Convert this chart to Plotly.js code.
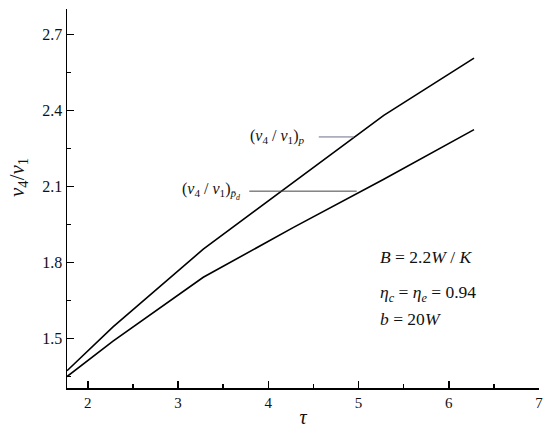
<!DOCTYPE html>
<html>
<head>
<meta charset="utf-8">
<script src="https://cdn.plot.ly/plotly-3.0.1.min.js"></script>
<style>html,body{margin:0;padding:0;background:#fff;}#chart{width:550px;height:435px;}</style>
</head>
<body>
<div id="chart"></div>
<script>
// Data
const tau = [1.77, 2.28, 3.28, 4.28, 5.28, 6.28];
const ratioP = [1.372, 1.545, 1.852, 2.115, 2.380, 2.606];
const ratioPd = [1.349, 1.489, 1.741, 1.938, 2.128, 2.324];

const xTick0 = 2, xDtick = 1, xMinorDtick = 0.5;
const yTick0 = 1.5, yDtick = 0.3, yMinorDtick = 0.15;
const xRange = [1.77, 7];
const yRange = [1.304, 2.8];

const serif = 'Times New Roman';

const traces = [
  {x: tau, y: ratioP, mode: 'lines', line: {color: '#000', width: 1.6}, showlegend: false, hoverinfo: 'skip'},
  {x: tau, y: ratioPd, mode: 'lines', line: {color: '#000', width: 1.6}, showlegend: false, hoverinfo: 'skip'}
];

const layout = {
  width: 550, height: 435,
  margin: {l: 67, r: 11, t: 9, b: 47},
  paper_bgcolor: '#fff', plot_bgcolor: '#fff',
  font: {family: serif, color: '#111', size: 15},
  xaxis: {
    range: xRange, showgrid: false, zeroline: false,
    showline: true, linecolor: '#000', linewidth: 1.5,
    ticks: 'inside', ticklen: 7, tickwidth: 1.5, tickcolor: '#000',
    tickmode: 'linear', tick0: xTick0, dtick: xDtick,
    tickfont: {family: serif, size: 15, color: '#111'},
    minor: {ticks: 'inside', ticklen: 4, tickwidth: 1.3, tickcolor: '#000', tickmode: 'linear', tick0: xTick0, dtick: xMinorDtick, showgrid: false},
    title: {text: '<i>τ</i>', font: {family: serif, size: 20, color: '#111'}, standoff: 0}
  },
  yaxis: {
    range: yRange, showgrid: false, zeroline: false,
    showline: true, linecolor: '#000', linewidth: 1.5,
    ticks: 'inside', ticklen: 7, tickwidth: 1.5, tickcolor: '#000',
    tickmode: 'linear', tick0: yTick0, dtick: yDtick, tickformat: '.1f',
    tickfont: {family: serif, size: 16, color: '#111'},
    minor: {ticks: 'inside', ticklen: 4, tickwidth: 1.3, tickcolor: '#000', tickmode: 'linear', tick0: yTick0, dtick: yMinorDtick, showgrid: false}
  },
  shapes: [
    {type: 'line', xref: 'x', yref: 'y', x0: 4.56, x1: 4.95, y0: 2.295, y1: 2.295, line: {color: '#6d6d88', width: 1}},
    {type: 'line', xref: 'x', yref: 'y', x0: 3.79, x1: 4.98, y0: 2.081, y1: 2.081, line: {color: '#444', width: 1}}
  ],
  annotations: [
    {x: 0, y: 0, xref: 'paper', yref: 'paper', showarrow: false, textangle: -90,
     text: '<i>v</i><sub>4</sub>/<i>v</i><sub>1</sub>', font: {family: serif, size: 21, color: '#111'}},
    {x: 4.43, y: 2.295, xref: 'x', yref: 'y', xanchor: 'right', yanchor: 'middle', showarrow: false,
     text: '(<i>v</i><sub>4</sub> / <i>v</i><sub>1</sub>)<sub><i>p</i></sub>', font: {family: serif, size: 16, color: '#111'}},
    {x: 3.71, y: 2.081, xref: 'x', yref: 'y', xanchor: 'right', yanchor: 'middle', showarrow: false,
     text: '(<i>v</i><sub>4</sub> / <i>v</i><sub>1</sub>)<sub><i>p\u0304</i><sub><i>d</i></sub></sub>', font: {family: serif, size: 16, color: '#111'}},
    {x: 5.22, y: 1.82, xref: 'x', yref: 'y', xanchor: 'left', yanchor: 'middle', showarrow: false,
     text: '<i>B</i> = 2.2<i>W</i> / <i>K</i>', font: {family: serif, size: 17.5, color: '#111'}},
    {x: 5.22, y: 1.679, xref: 'x', yref: 'y', xanchor: 'left', yanchor: 'middle', showarrow: false,
     text: '<i>η</i><sub><i>c</i></sub> = <i>η</i><sub><i>e</i></sub> = 0.94', font: {family: serif, size: 17.5, color: '#111'}},
    {x: 5.22, y: 1.576, xref: 'x', yref: 'y', xanchor: 'left', yanchor: 'middle', showarrow: false,
     text: '<i>b</i> = 20<i>W</i>', font: {family: serif, size: 17.5, color: '#111'}}
  ]
};
// y-title pixel position (x=18, y=178) converted to paper coordinates
const plotW = 550 - 67 - 11, plotH = 435 - 9 - 47;
layout.annotations[0].x = (18 - 67) / plotW;
layout.annotations[0].y = (435 - 47 - 178) / plotH;
layout.annotations[0].xanchor = 'center';
layout.annotations[0].yanchor = 'middle';

Plotly.newPlot('chart', traces, layout, {displayModeBar: false, staticPlot: true});
</script>
</body>
</html>
